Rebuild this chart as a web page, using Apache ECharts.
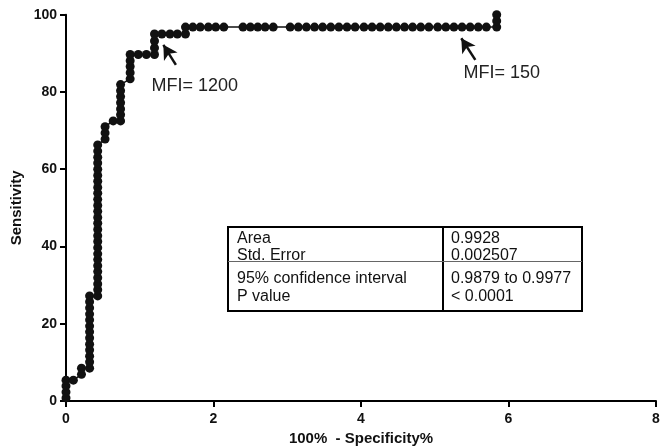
<!DOCTYPE html>
<html>
<head>
<meta charset="utf-8">
<script src="https://cdn.jsdelivr.net/npm/echarts@6.0.0/dist/echarts.min.js"></script>
<style>
  html, body { margin: 0; padding: 0; background: #fff; }
  #chart { width: 663px; height: 448px; }
</style>
</head>
<body>
<div id="chart"></div>
<script>
// ROC curve points: [100% - specificity%, sensitivity%]
var rocPoints = [
    [0, 0.8], [0, 2.3], [0, 3.9], [0, 5.4], [0.10, 5.4], [0.21, 6.9], [0.21, 8.5],
    [0.32, 8.5], [0.32, 10.1], [0.32, 11.6], [0.32, 13.2], [0.32, 14.7], [0.32, 16.3],
    [0.32, 17.9], [0.32, 19.4], [0.32, 21.0], [0.32, 22.5], [0.32, 24.1], [0.32, 25.7], [0.32, 27.2],
    [0.43, 27.2], [0.43, 28.8], [0.43, 30.3], [0.43, 31.9], [0.43, 33.5], [0.43, 35.0],
    [0.43, 36.6], [0.43, 38.1], [0.43, 39.7], [0.43, 41.3], [0.43, 42.8], [0.43, 44.4],
    [0.43, 46.0], [0.43, 47.5], [0.43, 49.1], [0.43, 50.6], [0.43, 52.2], [0.43, 53.8],
    [0.43, 55.3], [0.43, 56.9], [0.43, 58.4], [0.43, 60.0], [0.43, 61.6], [0.43, 63.1],
    [0.43, 64.7], [0.43, 66.3],
    [0.53, 67.8], [0.53, 69.4], [0.53, 71.0], [0.64, 72.5],
    [0.74, 72.5], [0.74, 74.1], [0.74, 75.6], [0.74, 77.2], [0.74, 78.8], [0.74, 80.3], [0.74, 81.9],
    [0.87, 83.4], [0.87, 85.0], [0.87, 86.6], [0.87, 88.1], [0.87, 89.7],
    [0.98, 89.7], [1.09, 89.7],
    [1.20, 89.7], [1.20, 91.4], [1.20, 93.2], [1.20, 95.0],
    [1.30, 95.0], [1.41, 95.0], [1.51, 95.0], [1.62, 95.0], [1.62, 96.8],
    [1.72, 96.8], [1.82, 96.8], [1.93, 96.8], [2.03, 96.8], [2.14, 96.8],
    [2.40, 96.8], [2.50, 96.8], [2.60, 96.8], [2.70, 96.8], [2.81, 96.8],
    [3.04, 96.8], [3.15, 96.8], [3.26, 96.8], [3.37, 96.8], [3.48, 96.8], [3.59, 96.8],
    [3.70, 96.8], [3.81, 96.8], [3.92, 96.8], [4.04, 96.8], [4.15, 96.8], [4.26, 96.8],
    [4.37, 96.8], [4.48, 96.8], [4.59, 96.8], [4.70, 96.8], [4.81, 96.8], [4.92, 96.8],
    [5.04, 96.8], [5.15, 96.8], [5.26, 96.8], [5.37, 96.8], [5.48, 96.8], [5.59, 96.8],
    [5.70, 96.8], [5.84, 96.8], [5.84, 98.4], [5.84, 100]
];

var xTicks = [0, 2, 4, 6, 8];
var yTicks = [0, 20, 40, 60, 80, 100];

// annotations (arrow tail, arrow head, text anchor) in data units
var annotLabels = ['MFI= 1200', 'MFI= 150'];
var annotTails = [[1.49, 87.0], [5.55, 88.3]];
var annotHeads = [[1.32, 92.2], [5.36, 93.9]];
var annotText = [[1.16, 81.5], [5.39, 84.8]];

// summary table
var tableLabels = ['Area', 'Std. Error', '95% confidence interval', 'P value'];
var tableValues = ['0.9928', '0.002507', '0.9879 to 0.9977', '< 0.0001'];

var FONT = '"Liberation Sans", Arial, sans-serif';
var chart = echarts.init(document.getElementById('chart'));

var arrowLines = [];
var textPoints = [];
for (var i = 0; i < annotLabels.length; i++) {
    arrowLines.push([{coord: annotTails[i]}, {coord: annotHeads[i]}]);
    textPoints.push({coord: annotText[i], value: annotLabels[i]});
}

// table drawn as plain graphics
var tbl = {x: 228, y: 227, w: 354, h: 84, split: 443, mid: 261.5};
var rowY = [238.5, 255.5, 279, 296.5];
var tableGraphics = [
    {type: 'rect', shape: {x: tbl.x, y: tbl.y, width: tbl.w, height: tbl.h},
        style: {fill: '#fff', stroke: '#000', lineWidth: 2}},
    {type: 'line', shape: {x1: tbl.split, y1: tbl.y, x2: tbl.split, y2: tbl.y + tbl.h},
        style: {stroke: '#000', lineWidth: 2}},
    {type: 'line', shape: {x1: tbl.x, y1: tbl.mid, x2: tbl.x + tbl.w, y2: tbl.mid},
        style: {stroke: '#666', lineWidth: 1}}
];
tableLabels.forEach(function (t, k) {
    tableGraphics.push({type: 'text', x: 237, y: rowY[k],
        style: {text: t, font: '16px ' + FONT, fill: '#111', textVerticalAlign: 'middle'}});
    tableGraphics.push({type: 'text', x: 451, y: rowY[k],
        style: {text: tableValues[k], font: '16px ' + FONT, fill: '#111', textVerticalAlign: 'middle'}});
});

var axisCommon = {
    axisLine: {show: true, lineStyle: {color: '#000', width: 2}},
    axisTick: {show: true, length: 6, lineStyle: {color: '#000', width: 2}},
    splitLine: {show: false},
    nameLocation: 'middle',
    nameTextStyle: {fontFamily: FONT, fontWeight: 'bold', fontSize: 15, color: '#111'}
};

var option = {
    animation: false,
    backgroundColor: '#fff',
    grid: {left: 66, right: 7, top: 14.7, bottom: 47, outerBoundsMode: 'none', containLabel: false},
    xAxis: Object.assign({}, axisCommon, {
        type: 'value', min: xTicks[0], max: xTicks[xTicks.length - 1], interval: 2,
        name: '100%  - Specificity%', nameGap: 28,
        axisLabel: {fontFamily: FONT, fontWeight: 'bold', fontSize: 14, color: '#111', margin: 11}
    }),
    yAxis: Object.assign({}, axisCommon, {
        type: 'value', min: yTicks[0], max: yTicks[yTicks.length - 1], interval: 20,
        name: 'Sensitivity', nameGap: 42, nameMoveOverlap: false,
        axisLabel: {fontFamily: FONT, fontWeight: 'bold', fontSize: 14, color: '#111', margin: 9}
    }),
    series: [{
        type: 'line',
        data: rocPoints,
        clip: false,
        showAllSymbol: true,
        symbol: 'circle',
        symbolSize: 9,
        itemStyle: {color: '#111'},
        lineStyle: {color: '#111', width: 1.5},
        markLine: {
            silent: true,
            symbol: ['none', 'arrow'],
            symbolSize: [12, 14],
            lineStyle: {color: '#111', width: 2.5, type: 'solid'},
            label: {show: false},
            data: arrowLines
        },
        markPoint: {
            silent: true,
            symbol: 'circle',
            symbolSize: 0,
            label: {show: true, position: 'right', distance: 0, formatter: '{c}',
                fontFamily: FONT, fontSize: 18, color: '#222'},
            data: textPoints
        }
    }],
    graphic: tableGraphics
};
chart.setOption(option);
</script>
</body>
</html>
